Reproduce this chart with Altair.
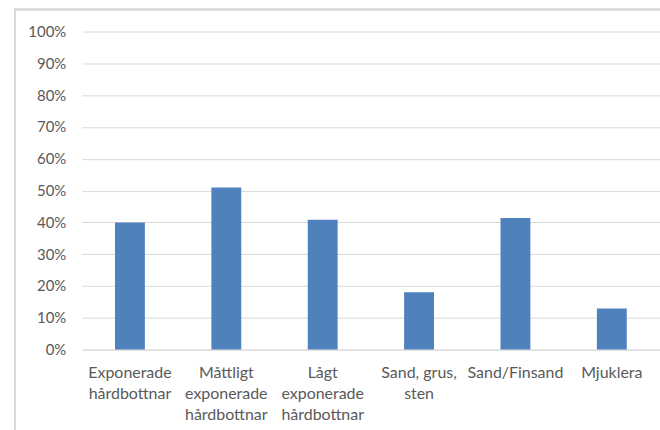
import altair as alt
import pandas as pd

categories = [
    "Exponerade\nhårdbottnar",
    "Måttligt\nexponerade\nhårdbottnar",
    "Lågt\nexponerade\nhårdbottnar",
    "Sand, grus,\nsten",
    "Sand/Finsand",
    "Mjuklera",
]
values = [0.40, 0.51, 0.408, 0.18, 0.414, 0.129]

df = pd.DataFrame({"category": categories, "value": values})

FONT = "Lato"
TXT = "#595959"
GRID = "#D9D9D9"

bars = alt.Chart(df).mark_bar(color="#4F81BD").encode(
    x=alt.X(
        "category:N",
        sort=categories,
        title=None,
        scale=alt.Scale(paddingInner=0.69, paddingOuter=0.345),
        axis=alt.Axis(
            labelAngle=0,
            labelExpr="split(datum.label, '\\n')",
            labelFont=FONT,
            labelFontSize=16,
            labelColor=TXT,
            labelLineHeight=21,
            labelPadding=15,
            labelBaseline="top",
            ticks=False,
            domainColor=GRID,
            domainWidth=1,
            grid=False,
        ),
    ),
    y=alt.Y(
        "value:Q",
        title=None,
        scale=alt.Scale(domain=[0, 1], nice=False),
        axis=alt.Axis(
            format=".0%",
            values=[i / 10 for i in range(11)],
            labelFont=FONT,
            labelFontSize=15,
            labelColor=TXT,
            labelPadding=16,
            ticks=False,
            domain=False,
            domainColor="transparent",
            domainWidth=0,
            domainOpacity=0,
            gridColor=GRID,
            gridWidth=1,
        ),
    ),
)

border = alt.Chart(df).mark_rect(
    fill="transparent", stroke=GRID, strokeWidth=1.5
).encode(
    x=alt.value(-67), x2=alt.value(620), y=alt.value(-22), y2=alt.value(450)
)

chart = (
    alt.layer(border, bars)
    .properties(
        width=580,
        height=319,
        padding={"left": 82, "top": 31, "right": 0, "bottom": 80},
        autosize=alt.AutoSizeParams(type="none"),
        view=alt.ViewBackground(strokeOpacity=0, strokeWidth=0),
    )
    .configure_view(strokeOpacity=0, strokeWidth=0)
    .configure_axisY(domain=False, domainColor="transparent", domainWidth=0)
    .configure_axisX(grid=False)
    .configure(background="white")
)

chart.save("out.html", embed_options={"renderer": "svg", "actions": False})
